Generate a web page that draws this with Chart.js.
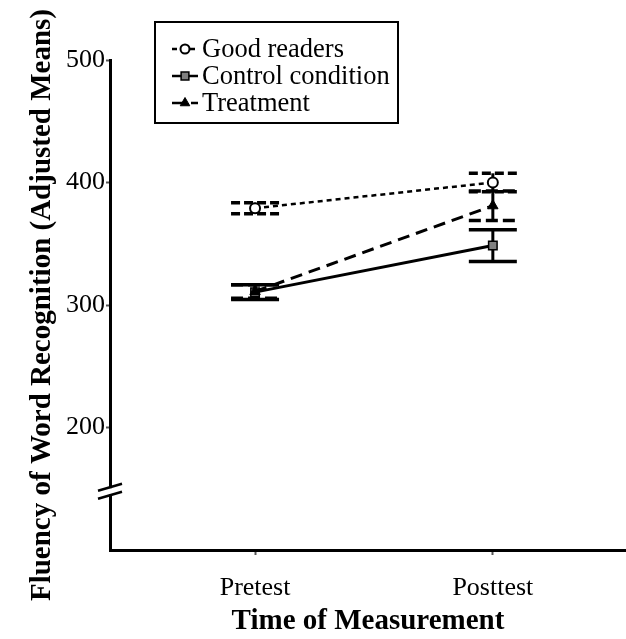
<!DOCTYPE html>
<html>
<head>
<meta charset="utf-8">
<script src="https://cdn.jsdelivr.net/npm/chart.js@4"></script>
<style>
  html, body { margin: 0; padding: 0; background: #fff; overflow: hidden; }
  #wrap { width: 626px; height: 639px; }
  canvas { display: block; }
</style>
</head>
<body>
<div id="wrap"><canvas id="fluency-chart" width="626" height="639"></canvas></div>
<script>
const timeLabels = ['Pretest', 'Posttest'];
const timeValues = [1, 2];
const yTickValues = [200, 300, 400, 500];
const seriesNames = ['Good readers', 'Control condition', 'Treatment'];
const goodReaders = [379, 400];
const goodReadersSE = [4.5, 7.5];
const controlCondition = [310.5, 348.5];
const controlSE = [6, 13];
const treatment = [311, 381];
const treatmentSE = [5.5, 12];
const axisBreakValue = 148;

const serif = "'Liberation Serif', 'Times New Roman', serif";

function toPoints(values) {
    return timeValues.map((x, i) => ({ x: x, y: values[i] }));
}

// error bars go under the lines and markers
const errorBarPlugin = {
    id: 'errorBars',
    beforeDatasetsDraw(chart) {
        const { ctx, scales: { x, y } } = chart;
        chart.data.datasets.forEach(ds => {
            ds.data.forEach((pt, i) => {
                const px = x.getPixelForValue(pt.x);
                const top = y.getPixelForValue(pt.y + ds.errors[i]);
                const bottom = y.getPixelForValue(pt.y - ds.errors[i]);
                ctx.save();
                ctx.strokeStyle = '#000';
                ctx.lineWidth = 3;
                ctx.beginPath();
                ctx.moveTo(px, top);
                ctx.lineTo(px, bottom);
                ctx.stroke();
                ctx.lineWidth = 3.5;
                ctx.setLineDash(ds.capDash);
                [top, bottom].forEach(cy => {
                    ctx.beginPath();
                    ctx.moveTo(px - 24, cy);
                    ctx.lineTo(px + 24, cy);
                    ctx.stroke();
                });
                ctx.restore();
            });
        });
    }
};

// the // mark on the y axis and the boxed legend
const decorPlugin = {
    id: 'decor',
    afterDraw(chart) {
        const ctx = chart.ctx;
        const xa = chart.chartArea.left;
        const yb = chart.scales.y.getPixelForValue(axisBreakValue);
        ctx.save();
        ctx.fillStyle = '#fff';
        ctx.fillRect(xa - 3, yb - 3, 6, 6);
        ctx.strokeStyle = '#000';
        ctx.lineWidth = 2.5;
        [-4, 4].forEach(off => {
            ctx.beginPath();
            ctx.moveTo(xa - 12, yb + off + 3.5);
            ctx.lineTo(xa + 12, yb + off - 3.5);
            ctx.stroke();
        });

        ctx.lineWidth = 2;
        ctx.strokeRect(155, 22, 243, 101);
        const rows = [49, 76, 103];
        ctx.font = '26.5px ' + serif;
        ctx.textBaseline = 'middle';
        ctx.textAlign = 'left';
        seriesNames.forEach((name, i) => {
            const ds = chart.data.datasets[i];
            const ry = rows[i];
            ctx.strokeStyle = '#000';
            ctx.lineWidth = 2.5;
            ctx.setLineDash(ds.borderDash || []);
            ctx.beginPath();
            ctx.moveTo(172, ry);
            ctx.lineTo(198, ry);
            ctx.stroke();
            ctx.setLineDash([]);
            ctx.fillStyle = ds.pointBackgroundColor;
            ctx.strokeStyle = ds.pointBorderColor;
            ctx.lineWidth = ds.pointBorderWidth;
            Chart.helpers.drawPoint(ctx, {
                pointStyle: ds.pointStyle,
                radius: ds.pointRadius - 0.5,
                borderWidth: ds.pointBorderWidth,
                rotation: 0
            }, 185, ry);
            ctx.fillStyle = '#000';
            ctx.fillText(name, 202, ry + 1);
        });
        ctx.restore();
    }
};

new Chart(document.getElementById('fluency-chart'), {
    type: 'line',
    data: {
        datasets: [
            {
                label: seriesNames[0],
                order: 1,
                data: toPoints(goodReaders),
                errors: goodReadersSE,
                capDash: [9, 4],
                borderColor: '#000',
                borderWidth: 2.5,
                borderDash: [5, 4],
                pointStyle: 'circle',
                pointRadius: 5,
                pointBackgroundColor: '#fff',
                pointBorderColor: '#000',
                pointBorderWidth: 2
            },
            {
                label: seriesNames[1],
                order: 2,
                data: toPoints(controlCondition),
                errors: controlSE,
                capDash: [],
                borderColor: '#000',
                borderWidth: 3,
                borderDash: [],
                pointStyle: 'rect',
                pointRadius: 6,
                pointBackgroundColor: '#808080',
                pointBorderColor: '#000',
                pointBorderWidth: 1.5
            },
            {
                label: seriesNames[2],
                order: 0,
                data: toPoints(treatment),
                errors: treatmentSE,
                capDash: [12, 5],
                borderColor: '#000',
                borderWidth: 3,
                borderDash: [12, 7],
                pointStyle: 'triangle',
                pointRadius: 6,
                pointBackgroundColor: '#000',
                pointBorderColor: '#000',
                pointBorderWidth: 1
            }
        ]
    },
    options: {
        responsive: false,
        animation: false,
        layout: { autoPadding: false, padding: { left: 23, top: 60, right: 0, bottom: 0 } },
        plugins: {
            legend: { display: false },
            tooltip: { enabled: false }
        },
        scales: {
            x: {
                type: 'linear',
                min: 0.39,
                max: 2.56,
                afterBuildTicks: scale => { scale.ticks = timeValues.map(v => ({ value: v })); },
                afterFit: scale => {
                    scale.height = 89;
                    scale.paddingLeft = 0;
                    scale.paddingRight = 0;
                },
                ticks: {
                    callback: v => timeLabels[timeValues.indexOf(v)],
                    color: '#000',
                    font: { family: serif, size: 26 },
                    padding: 18,
                    maxRotation: 0
                },
                grid: { drawOnChartArea: false, tickLength: 5, tickWidth: 2, color: '#555' },
                border: { display: true, color: '#000', width: 3 },
                title: {
                    display: true,
                    text: 'Time of Measurement',
                    color: '#000',
                    font: { family: serif, size: 29, weight: 'bold' },
                    padding: { top: 0, bottom: 0 }
                }
            },
            y: {
                min: 100,
                max: 500,
                afterBuildTicks: scale => { scale.ticks = yTickValues.map(v => ({ value: v })); },
                afterFit: scale => { scale.width = 87; },
                ticks: {
                    color: '#000',
                    font: { family: serif, size: 26 },
                    padding: 1
                },
                grid: { drawOnChartArea: false, tickLength: 4, tickWidth: 2, color: '#555' },
                border: { display: true, color: '#000', width: 3 },
                title: {
                    display: true,
                    text: 'Fluency of Word Recognition (Adjusted Means)',
                    color: '#000',
                    font: { family: serif, size: 29, weight: 'bold' },
                    padding: { top: 2, bottom: 0 }
                }
            }
        }
    },
    plugins: [errorBarPlugin, decorPlugin]
});
</script>
</body>
</html>
